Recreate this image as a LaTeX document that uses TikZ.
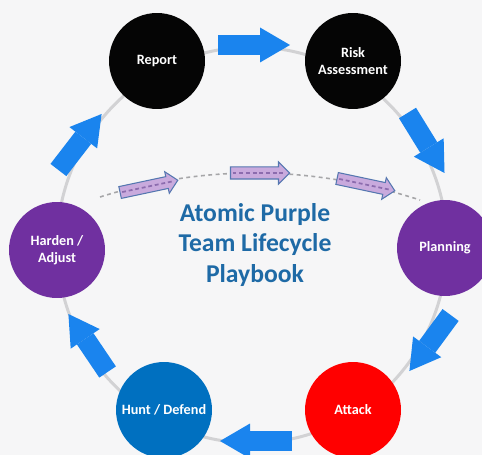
\documentclass[tikz,border=0pt]{standalone}
\usepackage{fontspec}
\setmainfont{Carlito}
\usetikzlibrary{shapes.arrows,arrows.meta}

\definecolor{bgcol}{HTML}{F6F6F7}
\definecolor{ringgray}{HTML}{D2D2D4}
\definecolor{flowblue}{HTML}{1A84EE}
\definecolor{stagepurple}{HTML}{7030A0}
\definecolor{stagered}{HTML}{FF0000}
\definecolor{stageblue}{HTML}{0070C0}
\definecolor{stageblack}{HTML}{050505}
\definecolor{titleblue}{HTML}{1E6AA6}
\definecolor{lavfill}{HTML}{C9AADD}
\definecolor{lavedge}{HTML}{5577B0}
\definecolor{lavdash}{HTML}{8C6CAE}
\definecolor{arcgray}{HTML}{A6A6A8}

\begin{document}
\begin{tikzpicture}[x=0.02cm, y=-0.02cm,
  stage/.style={circle, minimum size=1.92cm, inner sep=0pt, text=white,
    align=center, font=\bfseries\fontsize{8.1}{9.6}\selectfont},
  ring/.style={ringgray, line width=1.7pt},
  flow/.style={flowblue, line width=0.4cm, line cap=butt,
    -{Triangle[length=0.6cm, width=0.7cm, line width=0pt]}},
  phase/.style={single arrow, draw=lavedge, fill=lavfill, line width=0.6pt,
    minimum height=1.18cm, inner xsep=0pt, inner ysep=0.11cm,
    text height=0pt, text depth=0pt, text width=0pt,
    single arrow head extend=0.1cm, single arrow tip angle=90},
  phasedash/.style={lavdash, line width=1pt, dash pattern=on 2.2pt off 1.6pt},
  arcline/.style={arcgray, line width=0.9pt, dash pattern=on 2.2pt off 2pt},
  heading/.style={text=titleblue, align=center,
    font=\bfseries\fontsize{14.6}{17.6}\selectfont}
]
  % canvas
  \useasboundingbox (0,0) rectangle (482,455);
  \clip (0,0) rectangle (482,455);
  \fill[bgcol] (0,0) rectangle (482,455);

  % the cycle ring behind the stages
  \draw[ring] (252,245) ellipse [x radius=3.9cm, y radius=3.96cm];

  % stages
  \node[stage, fill=stageblack]  (report)  at (157,61)  {Report};
  \node[stage, fill=stageblack]  (risk)    at (353,61)  {Risk\\Assessment};
  \node[stage, fill=stagepurple] (plan)    at (445,248) {Planning};
  \node[stage, fill=stagered]    (attack)  at (353,410) {Attack};
  \node[stage, fill=stageblue]   (hunt)    at (164,410) {Hunt / Defend};
  \node[stage, fill=stagepurple] (harden)  at (57,250)  {Harden /\\Adjust};

  % block arrows between the stages, clockwise
  \coordinate (t1) at (218,45);    \coordinate (h1) at (290,45);
  \coordinate (t2) at (407.5,113); \coordinate (h2) at (444.5,173);
  \coordinate (t3) at (450.6,315); \coordinate (h3) at (409.4,371);
  \coordinate (t4) at (292,441);   \coordinate (h4) at (220,441);
  \coordinate (t5) at (107.6,372); \coordinate (h5) at (68.4,314);
  \coordinate (t6) at (58.4,170);  \coordinate (h6) at (101.6,114);
  \draw[flow] (t1) -- (h1);
  \draw[flow] (t2) -- (h2);
  \draw[flow] (t3) -- (h3);
  \draw[flow] (t4) -- (h4);
  \draw[flow] (t5) -- (h5);
  \draw[flow] (t6) -- (h6);

  % dashed arc across the middle with the phase arrows on it
  \coordinate (arcL) at (100,197);
  \coordinate (arcR) at (420,200);
  \draw[arcline] (arcL) .. controls (205,164) and (312,165) .. (arcR);
  \node[phase, rotate=12]  (ph1) at (146,187) {};
  \node[phase]             (ph2) at (257,173) {};
  \node[phase, rotate=-12] (ph3) at (363,184) {};
  \foreach \p in {ph1,ph2,ph3}
    \draw[phasedash, shorten <=1.5pt, shorten >=3pt] (\p.tail) -- (\p.tip);

  % title in the centre
  \node[heading] (title) at (255,245) {Atomic Purple\\Team Lifecycle\\Playbook};
\end{tikzpicture}
\end{document}
